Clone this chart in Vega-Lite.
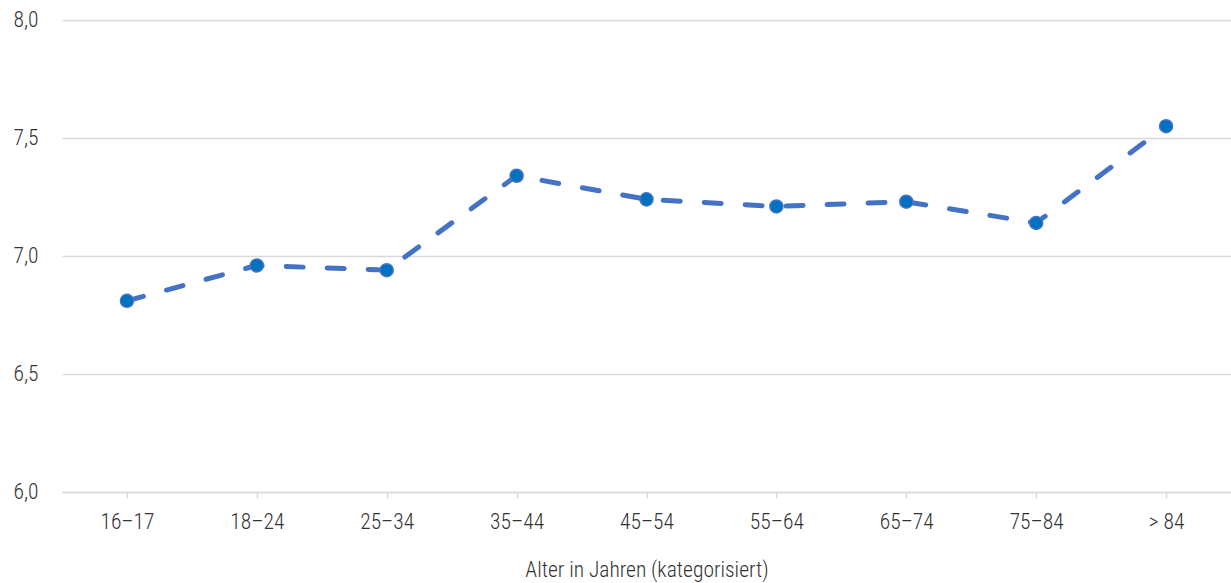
{
  "$schema": "https://vega.github.io/schema/vega-lite/v6.json",
  "width": 1169,
  "height": 472,
  "autosize": {"type": "none"},
  "padding": {"left": 62, "top": 20, "right": 0, "bottom": 91},
  "background": "white",
  "config": {
    "view": {"stroke": null},
    "font": "'Roboto Condensed', 'DejaVu Sans Condensed', Roboto, sans-serif",
    "axis": {"labelFont": "'Roboto Condensed', 'DejaVu Sans Condensed', Roboto, sans-serif", "titleFont": "'Roboto Condensed', 'DejaVu Sans Condensed', Roboto, sans-serif"}
  },
  "data": {
    "values": [
      {"alter": "16–17", "wert": 6.81},
      {"alter": "18–24", "wert": 6.96},
      {"alter": "25–34", "wert": 6.94},
      {"alter": "35–44", "wert": 7.34},
      {"alter": "45–54", "wert": 7.24},
      {"alter": "55–64", "wert": 7.21},
      {"alter": "65–74", "wert": 7.23},
      {"alter": "75–84", "wert": 7.14},
      {"alter": "> 84", "wert": 7.55}
    ]
  },
  "encoding": {
    "x": {
      "field": "alter",
      "type": "ordinal",
      "sort": null,
      "scale": {"type": "point", "padding": 0.5},
      "axis": {
        "title": "Alter in Jahren (kategorisiert)",
        "labelAngle": 0,
        "labelFontSize": 21.5,
        "labelFontWeight": 300,
        "labelColor": "#333333",
        "labelPadding": 13,
        "titleFontSize": 21.5,
        "titleFontWeight": 300,
        "titleColor": "#333333",
        "titlePadding": 27,
        "domainColor": "#d9d9d9",
        "domainWidth": 1.5,
        "tickColor": "#d9d9d9",
        "tickSize": 6,
        "tickWidth": 1.5,
        "grid": false
      }
    },
    "y": {
      "field": "wert",
      "type": "quantitative",
      "scale": {"domain": [6, 8], "nice": false, "zero": false},
      "axis": {
        "title": null,
        "values": [6, 6.5, 7, 7.5, 8],
        "format": ".1f",
        "labelExpr": "replace(format(datum.value, '.1f'), '.', ',')",
        "labelFontSize": 21.5,
        "labelFontWeight": 300,
        "labelColor": "#333333",
        "labelPadding": 24,
        "ticks": false,
        "tickSize": 0,
        "domain": false,
        "gridColor": "#d9d9d9",
        "gridWidth": 1.5
      }
    }
  },
  "layer": [
    {
      "mark": {"type": "line", "color": "#4472C4", "strokeWidth": 5, "strokeDash": [17, 24], "strokeCap": "round"}
    },
    {
      "mark": {"type": "point", "filled": true, "fill": "#0070C0", "stroke": "#4472C4", "strokeWidth": 1.5, "size": 170, "opacity": 1, "shape": "circle"}
    }
  ]
}
